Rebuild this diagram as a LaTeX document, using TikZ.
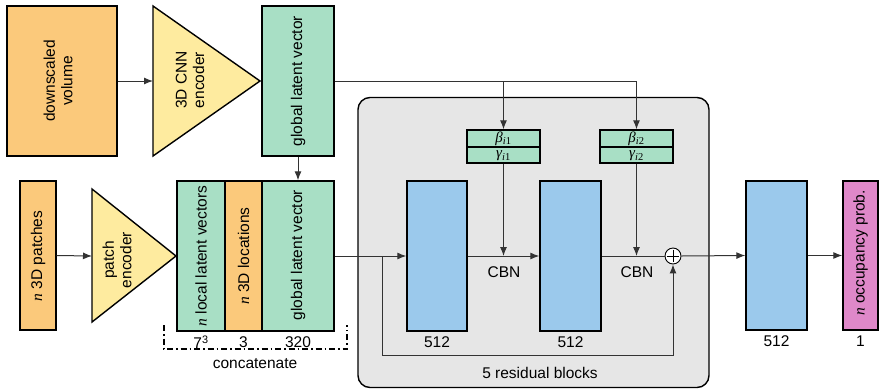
\documentclass[tikz,border=0pt]{standalone}
\usepackage{fontspec}
\setmainfont{Liberation Sans}
\newfontfamily\tnr{Liberation Serif}
\newcommand\nvar{{\tnr\itshape n}}
\newcommand\grk[2]{{\tnr\itshape #1\textsubscript{\itshape i\upshape #2}}}
\usetikzlibrary{arrows.meta}
\definecolor{corange}{HTML}{FBC97B}
\definecolor{cyellow}{HTML}{FEEB9F}
\definecolor{cgreen}{HTML}{A8DFC5}
\definecolor{cblue}{HTML}{9BC9EC}
\definecolor{cmag}{HTML}{DF88C9}
\definecolor{cgray}{HTML}{E6E6E6}
\definecolor{cline}{HTML}{333333}
\begin{document}
\begin{tikzpicture}[x=1pt,y=-1pt,
  font=\fontsize{15.5}{17.5}\selectfont,
  box/.style={draw=black, line width=1.4pt, inner sep=0},
  tri/.style={draw=black, line width=1.4pt, fill=cyellow, line join=miter},
  vlabel/.style={rotate=90, align=center, inner sep=0},
  arr/.style={draw=cline, line width=1pt, -{Latex[length=9pt,width=7pt]}},
  conn/.style={draw=cline, line width=1pt},
  small/.style={font=\fontsize{15}{16}\selectfont, inner sep=0}]
\useasboundingbox (0,0) rectangle (880,389);

% residual container
\node[box, fill=cgray, rounded corners=12pt, minimum width=351, minimum height=290] (res) at (533.5,242.5) {};
\node (tres) at (540,373) {5 residual blocks};

% top row
\node[box, fill=corange, minimum width=110, minimum height=150] (vol) at (62,81) {};
\node[vlabel] (tvol) at (58,81) {downscaled\\volume};
\draw[tri] (153,6) -- (153,156) -- (260,81) -- cycle;
\coordinate (cnnin) at (153,81);
\node[vlabel] (tcnn) at (190,80) {3D CNN\\encoder};
\node[box, fill=cgreen, minimum width=72, minimum height=150] (glob1) at (298,81) {};
\node[vlabel] (tglob1) at (298,81) {global latent vector};
\draw[arr] (vol.east) -- (cnnin);

% bottom row
\node[box, fill=corange, minimum width=36, minimum height=149] (patch) at (38,255.5) {};
\node[vlabel] (tpatch) at (38,256) {\nvar\ 3D patches};
\draw[tri] (92,189) -- (92,322) -- (176,256) -- cycle;
\coordinate (pencin) at (92,256);
\node[vlabel] (tpenc) at (117,260) {patch\\encoder};
\draw[arr] (patch.east) -- (pencin);

\node[box, fill=cgreen, minimum width=48, minimum height=150] (loc) at (201,256) {};
\node[vlabel] (tloc) at (201,256) {\nvar\ local latent vectors};
\node[box, fill=corange, minimum width=37, minimum height=150] (pos) at (243.5,256) {};
\node[vlabel] (tpos) at (243.5,256) {\nvar\ 3D locations};
\node[box, fill=cgreen, minimum width=72, minimum height=150] (glob2) at (298,256) {};
\node[vlabel] (tglob2) at (298,255) {global latent vector};
\draw[arr] (glob1.south) -- (glob2.north);

\node (d1) at (201,342) {7\textsuperscript{3}};
\node (d2) at (243.5,342) {3};
\node (d3) at (298,342) {320};
\draw[line width=1.3pt, dash pattern=on 6pt off 3pt on 1.5pt off 3pt] (164,325) -- (164,349) -- (347,349) -- (347,325);
\node (tcat) at (255,364) {concatenate};

% residual blocks
\node[box, fill=cblue, minimum width=60, minimum height=150] (blk1) at (437,256) {};
\node[box, fill=cblue, minimum width=61, minimum height=150] (blk2) at (570.5,256) {};
\node (n1) at (437,342) {512};
\node (n2) at (570.5,342) {512};

\node[box, fill=cgreen, minimum width=73, minimum height=17] (beta1) at (503.5,138.5) {};
\node[box, fill=cgreen, minimum width=73, minimum height=16] (gamma1) at (503.5,155) {};
\node[small] at (beta1) {\grk{β}{1}};
\node[small] at ([yshift=-1pt]gamma1) {\grk{γ}{1}};
\node[box, fill=cgreen, minimum width=73, minimum height=17] (beta2) at (636.5,138.5) {};
\node[box, fill=cgreen, minimum width=73, minimum height=16] (gamma2) at (636.5,155) {};
\node[small] at (beta2) {\grk{β}{2}};
\node[small] at ([yshift=-1pt]gamma2) {\grk{γ}{2}};

\node (cbn1) at (504,272) {CBN};
\node (cbn2) at (637,272) {CBN};

\node[circle, draw=black, line width=0.9pt, fill=white, minimum size=16pt, inner sep=0] (plus) at (673,256) {};
\draw[line width=0.8pt] ([yshift=-2pt]plus.north) -- ([yshift=2pt]plus.south) ([xshift=2pt]plus.west) -- ([xshift=-2pt]plus.east);

% output
\node[box, fill=cblue, minimum width=61, minimum height=149] (blk3) at (776.5,255.5) {};
\node (n3) at (776.5,341) {512};
\node[box, fill=cmag, minimum width=35, minimum height=149] (occ) at (860.5,255.5) {};
\node[vlabel] (tocc) at (860.5,253) {\nvar\ occupancy prob.};
\node (n4) at (860.5,341) {1};

% connectors
\draw[arr] (glob1.east) -| (beta2.north);
\draw[arr] (glob1.east -| beta1.north) -- (beta1.north);
\draw[arr] (glob2.east) -- (blk1.west);
\coordinate (skip) at (382,256);
\draw[arr] (skip) -- ++(0,99) -| (plus.south);
\draw[arr] (blk1.east) -- (blk2.west);
\draw[arr] (gamma1.south) -- (gamma1.south |- blk1.east);
\draw[arr] (gamma2.south) -- (gamma2.south |- blk2.east);
\draw[conn] (blk2.east) -- (plus.west);
\draw[arr] (plus.east) -- (blk3.west);
\draw[arr] (blk3.east) -- (occ.west);
\end{tikzpicture}
\end{document}
